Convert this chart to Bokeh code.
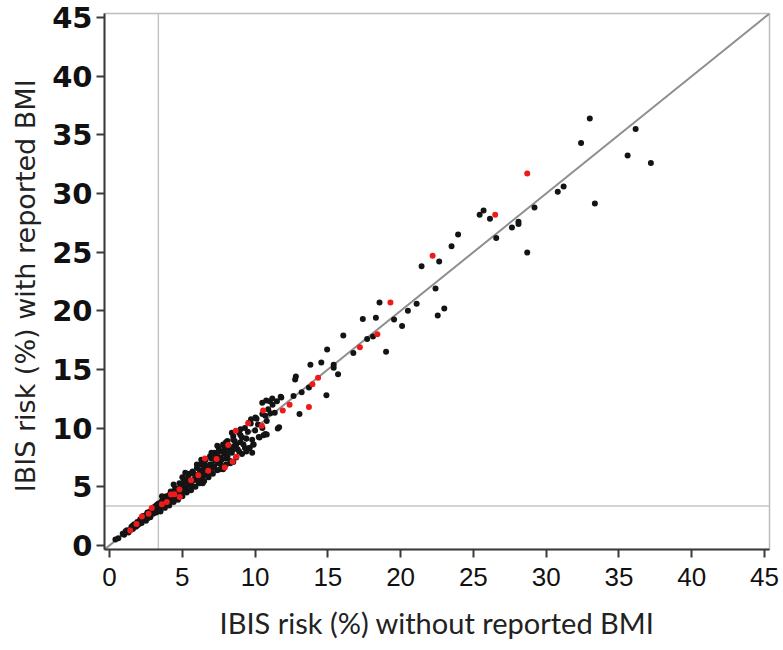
from bokeh.plotting import figure
from bokeh.models import Range1d, Span, Slope, FixedTicker
from bokeh.embed import file_html
from bokeh.resources import INLINE

# ---- data ----
threshold = 3.35
ticks = [0, 5, 10, 15, 20, 25, 30, 35, 40, 45]
x_title = "IBIS risk (%) without reported BMI"
y_title = "IBIS  risk (%) with reported BMI"

black_x = [0.4, 0.6, 0.9, 1.0, 1.2, 1.3, 1.5, 1.6, 1.7, 1.8, 1.9, 2.0, 2.1, 2.2, 2.3, 2.4, 2.5, 2.6, 2.7, 2.8,
           2.9, 3.0, 3.1, 3.2, 3.3, 3.4, 3.5, 3.6, 3.7, 3.8, 3.9, 4.0, 4.1, 4.2, 4.3, 4.4, 4.5, 4.6, 4.7, 4.8,
           4.9, 5.0, 5.1, 5.2, 5.3, 5.4, 5.5, 5.6, 5.7, 5.8, 5.9, 6.0, 6.1, 6.2, 6.3, 6.4, 6.5, 6.6, 6.7, 6.8,
           6.9, 7.0, 7.1, 7.2, 7.3, 7.4, 7.5, 7.6, 7.7, 7.8, 7.9, 8.0, 8.1, 8.2, 8.3, 8.5, 8.6, 8.7, 8.9, 9.0,
           9.1, 9.3, 9.4, 9.6, 9.7, 9.9, 10.1, 10.3, 10.5, 10.7, 10.9, 11.2, 11.5, 11.8,
           2.2, 2.5, 2.8, 3.0, 3.3, 3.6, 3.9, 4.1, 4.4, 4.6, 4.8, 5.0, 5.2, 5.4, 5.6, 5.8, 6.0, 6.2, 6.4, 6.6,
           6.8, 7.0, 7.2, 7.4, 7.6, 7.8, 8.0, 8.2, 8.4, 8.6, 8.8, 9.0, 9.2, 9.5, 9.8, 10.0, 10.2, 10.5, 10.8,
           1.1, 1.4, 1.6, 1.9, 2.1, 2.4, 2.6, 2.7, 3.1, 3.2, 3.4, 3.5, 3.7, 3.8, 4.0, 4.2, 4.3, 4.5, 4.7, 4.9,
           5.1, 5.3, 5.5, 5.7, 5.9, 6.1, 6.3, 6.5, 6.7, 6.9, 7.1, 7.3, 7.5, 7.7, 7.9, 8.1, 8.3, 8.5, 8.7, 8.9,
           9.1, 9.3,
           5.0, 5.5, 6.0, 6.5, 7.0, 7.5, 8.0, 8.5, 9.0, 6.2, 6.9, 7.6, 8.3, 9.4,
           3.6, 4.4, 5.2, 6.3, 7.4, 8.4, 6.4, 7.8, 8.5, 9.8,
           11.65, 11.56, 10.58, 10.8, 10.25, 9.63, 9.87, 11.76, 11.18, 10.76, 10.49, 10.7, 11.05, 11.35, 9.57,
           9.72, 10.02, 11.0,
           12.64, 13.2, 13.7, 12.8, 12.75, 13.8, 13.05, 14.9, 14.55, 14.95, 15.4, 15.4, 15.7, 16.06, 16.75,
           17.4, 17.7, 18.1, 18.3, 18.55, 19.0, 19.55, 20.1, 20.5, 21.1, 22.4, 22.55, 23.0, 21.44, 22.65,
           23.5, 23.95, 25.43, 25.7, 26.14, 26.57, 27.65, 28.1, 28.1, 28.7, 29.2, 30.8, 31.2, 32.4, 33.0,
           33.35, 35.6, 36.15, 37.2]
black_y = [0.5, 0.6, 1.0, 0.9, 1.3, 1.1, 1.6, 1.4, 1.8, 1.6, 2.0, 1.8, 2.2, 1.9, 2.5, 2.2, 2.1, 2.8, 2.5, 2.4,
           3.1, 2.7, 3.3, 2.8, 3.5, 3.1, 2.9, 3.8, 3.4, 3.2, 4.2, 3.7, 3.4, 4.6, 4.0, 3.7, 4.9, 4.3, 3.9, 5.3,
           4.7, 4.2, 5.6, 5.0, 4.5, 5.9, 5.3, 4.7, 6.3, 5.6, 5.0, 6.6, 6.0, 5.3, 6.9, 6.3, 5.5, 7.3, 6.6, 5.8,
           7.6, 6.9, 6.1, 7.9, 7.2, 6.4, 8.3, 7.5, 6.6, 8.6, 7.8, 6.9, 8.9, 8.1, 7.2, 9.3, 8.5, 7.5, 9.6, 8.8,
           7.8, 10.0, 9.1, 8.3, 10.4, 8.6, 10.8, 9.2, 11.2, 9.5, 11.6, 12.0, 12.3, 12.6,
           2.3, 2.6, 2.9, 3.2, 3.0, 3.5, 3.6, 4.3, 4.3, 4.8, 4.4, 5.2, 4.8, 5.5, 5.1, 6.1, 5.7, 6.4, 5.9, 6.8,
           6.3, 7.4, 6.7, 7.6, 7.0, 8.0, 7.4, 8.5, 7.9, 8.9, 8.2, 9.4, 8.6, 9.7, 9.0, 9.8, 10.3, 10.0, 10.6,
           1.2, 1.3, 1.7, 1.7, 2.0, 2.5, 2.3, 2.8, 2.9, 3.4, 3.6, 3.3, 3.9, 3.6, 4.1, 3.8, 4.5, 4.1, 4.6, 5.0,
           4.6, 5.3, 4.9, 5.5, 5.9, 5.4, 6.1, 6.6, 6.0, 6.9, 6.6, 7.7, 7.0, 7.3, 8.3, 7.6, 8.0, 8.2, 8.6, 8.0,
           9.2, 8.3,
           5.8, 6.1, 6.9, 7.1, 7.9, 8.0, 8.8, 9.0, 9.9, 5.6, 6.2, 6.5, 7.0, 8.0,
           4.2, 5.2, 6.2, 7.3, 8.5, 9.6, 5.3, 6.5, 7.1, 7.9,
           10.08, 9.96, 9.4, 9.46, 9.25, 8.33, 8.6, 12.68, 12.53, 12.35, 12.16, 11.06, 11.27, 11.3, 10.45,
           10.75, 10.9, 12.3,
           12.74, 13.06, 13.46, 14.4, 14.15, 15.4, 11.2, 12.8, 15.6, 16.7, 15.4, 15.15, 14.6, 17.9, 16.4,
           19.3, 17.6, 17.8, 19.4, 20.7, 16.5, 19.25, 18.7, 20.0, 20.6, 21.9, 19.6, 20.2, 23.8, 24.2,
           25.5, 26.5, 28.2, 28.55, 27.86, 26.2, 27.1, 27.6, 27.4, 24.97, 28.8, 30.15, 30.6, 34.3, 36.4,
           29.15, 33.25, 35.5, 32.6]

red_x = [1.42, 1.85, 2.22, 2.68, 2.9, 3.59, 3.93, 4.22, 4.45, 4.8, 4.82, 5.6, 6.1, 6.78, 6.55, 7.35, 7.92,
         8.45, 8.72, 8.15, 8.67, 9.52, 10.55, 10.46, 11.9, 12.37, 13.7, 13.94, 14.33, 17.2, 18.4, 19.3,
         22.2, 26.5, 28.7]
red_y = [1.26, 1.82, 2.47, 2.69, 3.19, 3.5, 3.69, 4.33, 4.37, 4.76, 4.12, 5.56, 5.99, 6.36, 7.41, 7.36, 6.64,
         7.13, 7.56, 8.57, 9.77, 10.42, 11.5, 10.2, 11.5, 12.0, 11.8, 13.75, 14.3, 16.9, 18.0, 20.7,
         24.7, 28.2, 31.7]

# ---- figure ----
p = figure(width=783, height=650, output_backend="svg", toolbar_location=None,
           x_range=Range1d(-0.35, 45.35), y_range=Range1d(-0.35, 45.35),
           min_border_left=104, min_border_right=14, min_border_top=13, min_border_bottom=101)
p.background_fill_color = "white"
p.border_fill_color = "white"
p.outline_line_color = "#bdbdbd"
p.outline_line_width = 1.5
p.grid.visible = False

for ax in (p.xaxis[0], p.yaxis[0]):
    ax.ticker = FixedTicker(ticks=ticks)
    ax.axis_line_color = "#3a3a3a"
    ax.axis_line_width = 2
    ax.major_tick_line_color = "#3a3a3a"
    ax.major_tick_line_width = 2
    ax.major_tick_out = 8
    ax.major_tick_in = 0
    ax.minor_tick_line_color = None
    ax.major_label_text_color = "#111111"
    ax.axis_label_text_font_style = "normal"
    ax.axis_label_text_color = "#222222"

p.xaxis.major_label_text_font = "Liberation Sans"
p.xaxis.major_label_text_font_size = "26px"
p.xaxis.major_label_standoff = 10
p.xaxis.axis_label = x_title
p.xaxis.axis_label_text_font = "Lato"
p.xaxis.axis_label_text_font_size = "29px"
p.xaxis.axis_label_standoff = 16

p.yaxis.major_label_text_font = "DejaVu Sans"
p.yaxis.major_label_text_font_style = "bold"
p.yaxis.major_label_text_font_size = "29px"
p.yaxis.major_label_standoff = 4
p.yaxis.axis_label = y_title
p.yaxis.axis_label_text_font = "DejaVu Sans"
p.yaxis.axis_label_text_font_size = "27px"
p.yaxis.axis_label_standoff = 8

# reference lines
p.add_layout(Span(location=threshold, dimension="height", line_color="#c4c4c4", line_width=1.5, level="underlay"))
p.add_layout(Span(location=threshold, dimension="width", line_color="#c4c4c4", line_width=1.5, level="underlay"))
p.add_layout(Slope(gradient=1, y_intercept=0, line_color="#8e8e8e", line_width=2, level="underlay"))

p.scatter(black_x, black_y, size=6, marker="circle", fill_color="#141414", line_color=None)
p.scatter(red_x, red_y, size=6, marker="circle", fill_color="#f01a1a", line_color=None)

open("out.html", "w").write(file_html(p, INLINE))
